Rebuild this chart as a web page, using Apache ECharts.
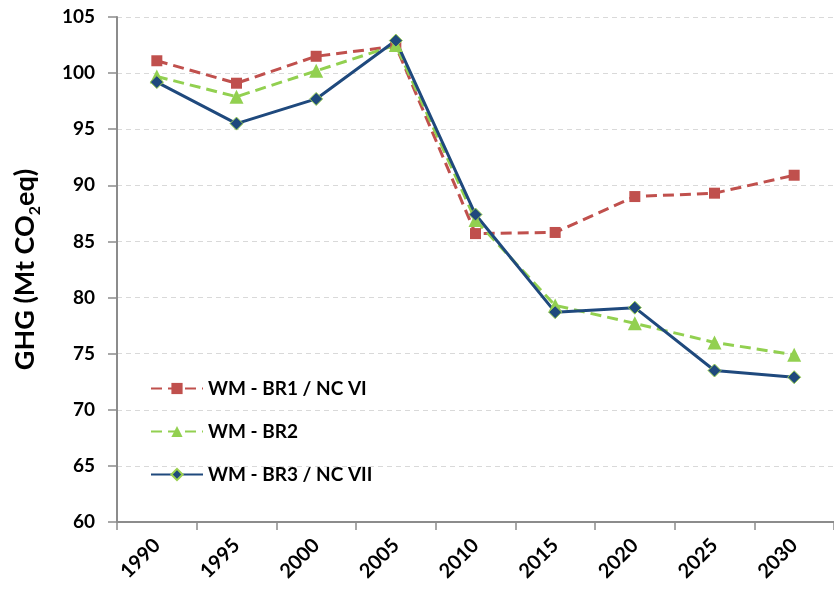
<!DOCTYPE html>
<html>
<head>
<meta charset="utf-8">
<script src="https://cdn.jsdelivr.net/npm/echarts@6/dist/echarts.min.js"></script>
<style>
html, body { margin: 0; padding: 0; background: #fff; }
#chart { width: 834px; height: 599px; }
</style>
</head>
<body>
<div id="chart"></div>
<script>
var years = ['1990', '1995', '2000', '2005', '2010', '2015', '2020', '2025', '2030'];
var br1 = [101.1, 99.1, 101.5, 102.4, 85.7, 85.8, 89.0, 89.3, 90.9];
var br2 = [99.7, 97.9, 100.2, 102.5, 86.9, 79.3, 77.7, 76.0, 74.9];
var br3 = [99.2, 95.5, 97.7, 102.9, 87.4, 78.7, 79.1, 73.5, 72.9];
var seriesNames = ['WM - BR1 / NC VI', 'WM - BR2', 'WM - BR3 / NC VII'];

var font = 'Lato';
var chart = echarts.init(document.getElementById('chart'));

var option = {
    backgroundColor: '#fff',
    animation: false,
    grid: {
        left: 117,
        right: -10,
        top: 17,
        bottom: 77
    },
    legend: {
        orient: 'vertical',
        left: 145,
        top: 374,
        itemWidth: 52,
        itemHeight: 14,
        itemGap: 24,
        textStyle: {
            fontFamily: font,
            fontWeight: 'bold',
            fontSize: 19,
            color: '#000'
        },
        data: seriesNames
    },
    xAxis: {
        type: 'category',
        data: years,
        boundaryGap: true,
        axisLine: { lineStyle: { color: '#8c8c8c', width: 2 } },
        axisTick: { show: true, length: 8, lineStyle: { color: '#8c8c8c', width: 1.5 } },
        axisLabel: {
            rotate: 45,
            margin: 20,
            fontFamily: font,
            fontWeight: 'bold',
            fontSize: 20,
            color: '#000'
        }
    },
    yAxis: {
        type: 'value',
        min: 60,
        max: 105,
        interval: 5,
        name: '{a|GHG (Mt CO}{s|2}{a|eq)}',
        nameLocation: 'middle',
        nameGap: 76,
        nameTextStyle: {
            rich: {
                a: { fontFamily: font, fontWeight: 'bold', fontSize: 27, color: '#000', lineHeight: 32 },
                s: { fontFamily: font, fontWeight: 'bold', fontSize: 16, color: '#000', lineHeight: 32, verticalAlign: 'bottom', padding: [0, 0, -2, 0] }
            }
        },
        axisLine: { show: true, lineStyle: { color: '#8c8c8c', width: 2 } },
        axisTick: { show: true, length: 9, lineStyle: { color: '#8c8c8c', width: 1.5 } },
        axisLabel: {
            margin: 22,
            fontFamily: font,
            fontWeight: 'bold',
            fontSize: 19,
            color: '#000'
        },
        splitLine: { lineStyle: { color: '#d9d9d9', type: [5, 4], width: 1 } }
    },
    series: [
        {
            name: seriesNames[0],
            type: 'line',
            data: br1,
            symbol: 'rect',
            symbolSize: 11,
            itemStyle: { color: '#c0504d' },
            lineStyle: { color: '#c0504d', width: 3, type: [11, 6] }
        },
        {
            name: seriesNames[1],
            type: 'line',
            data: br2,
            symbol: 'triangle',
            symbolSize: 14,
            itemStyle: { color: '#92d050' },
            lineStyle: { color: '#92d050', width: 3, type: [11, 6] }
        },
        {
            name: seriesNames[2],
            type: 'line',
            data: br3,
            symbol: 'diamond',
            symbolSize: 13,
            itemStyle: { color: '#1f497d', borderColor: '#9bd050', borderWidth: 1 },
            lineStyle: { color: '#1f497d', width: 3 }
        }
    ]
};
chart.setOption(option);
</script>
</body>
</html>
